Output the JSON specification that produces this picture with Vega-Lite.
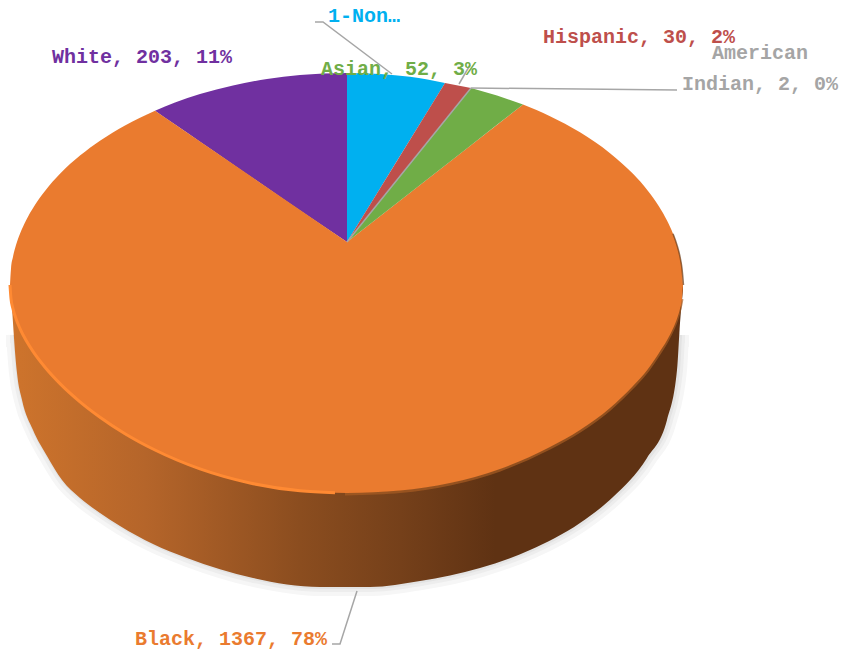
{
"$schema":"https://vega.github.io/schema/vega-lite/v6.json",
"width":843,"height":653,"padding":0,
"autosize":"none",
"background":"white",
"config":{"view":{"stroke":null}},
"datasets":{
"labels":[
{"category":"1-Non-Hispanic","value":100,"percent":6,"label":"1-Non…","lx":364,"ly":22},
{"category":"Hispanic","value":30,"percent":2,"label":"Hispanic, 30, 2%","lx":639,"ly":43},
{"category":"American Indian","value":2,"percent":0,"label":"American\nIndian, 2, 0%","lx":760,"ly":59},
{"category":"Asian","value":52,"percent":3,"label":"Asian, 52, 3%","lx":399,"ly":75},
{"category":"Black","value":1367,"percent":78,"label":"Black, 1367, 78%","lx":231,"ly":645},
{"category":"White","value":203,"percent":11,"label":"White, 203, 11%","lx":142,"ly":63}
],
"wall":[
{"x":11,"t":285,"b":290},{"x":13,"t":285,"b":323},{"x":17,"t":285,"b":373},{"x":22,"t":285,"b":400},{"x":33,"t":285,"b":430},{"x":47,"t":285,"b":456},{"x":62,"t":285,"b":480},{"x":80,"t":285,"b":498},{"x":100,"t":285,"b":513},{"x":120,"t":285,"b":526},{"x":153,"t":285,"b":544},{"x":187,"t":285,"b":558},{"x":253,"t":285,"b":578},{"x":320,"t":285,"b":587},{"x":370,"t":285,"b":587},{"x":420,"t":285,"b":581},{"x":480,"t":285,"b":568},{"x":530,"t":285,"b":550},{"x":580,"t":285,"b":523},{"x":613,"t":285,"b":497},{"x":647,"t":285,"b":458},{"x":667,"t":285,"b":420},{"x":677,"t":285,"b":370},{"x":680,"t":285,"b":323},{"x":683,"t":285,"b":290}
],
"shade":[
{"x":14,"t":330,"b":335},{"x":17,"t":330,"b":373},{"x":22,"t":330,"b":400},{"x":33,"t":330,"b":430},{"x":47,"t":330,"b":456},{"x":62,"t":330,"b":480},{"x":80,"t":330,"b":498},{"x":100,"t":330,"b":513},{"x":120,"t":330,"b":526},{"x":153,"t":330,"b":544},{"x":187,"t":330,"b":558},{"x":253,"t":330,"b":578},{"x":320,"t":330,"b":587},{"x":370,"t":330,"b":587},{"x":420,"t":330,"b":581},{"x":480,"t":330,"b":568},{"x":530,"t":330,"b":550},{"x":580,"t":330,"b":523},{"x":613,"t":330,"b":497},{"x":647,"t":330,"b":458},{"x":667,"t":330,"b":420},{"x":677,"t":330,"b":370},{"x":679,"t":330,"b":335}
],
"smooth":[
{"part":"low","category":"Black","x":10,"u":285,"l":285},{"part":"low","category":"Black","x":11,"u":285,"l":298.7},{"part":"low","category":"Black","x":13,"u":285,"l":308.8},{"part":"low","category":"Black","x":16,"u":285,"l":318.7},{"part":"low","category":"Black","x":20,"u":285,"l":328.6},{"part":"low","category":"Black","x":26,"u":285,"l":340.3},{"part":"low","category":"Black","x":34,"u":285,"l":352.9},{"part":"low","category":"Black","x":45,"u":285,"l":367.2},{"part":"low","category":"Black","x":60,"u":285,"l":383.6},{"part":"low","category":"Black","x":80,"u":285,"l":401.8},{"part":"low","category":"Black","x":100,"u":285,"l":417.2},{"part":"low","category":"Black","x":125,"u":285,"l":433.7},{"part":"low","category":"Black","x":155,"u":285,"l":450},{"part":"low","category":"Black","x":200,"u":285,"l":468.9},{"part":"low","category":"Black","x":250,"u":285,"l":483},{"part":"low","category":"Black","x":300,"u":285,"l":490.8},{"part":"low","category":"Black","x":347,"u":285,"l":493},{"part":"low","category":"Black","x":400,"u":285,"l":490.5},{"part":"low","category":"Black","x":450,"u":285,"l":483},{"part":"low","category":"Black","x":500,"u":285,"l":469},{"part":"low","category":"Black","x":550,"u":285,"l":447},{"part":"low","category":"Black","x":580,"u":285,"l":430},{"part":"low","category":"Black","x":610,"u":285,"l":408},{"part":"low","category":"Black","x":633,"u":285,"l":386},{"part":"low","category":"Black","x":648,"u":285,"l":369},{"part":"low","category":"Black","x":659,"u":285,"l":352.9},{"part":"low","category":"Black","x":667,"u":285,"l":340.3},{"part":"low","category":"Black","x":673,"u":285,"l":328.6},{"part":"low","category":"Black","x":677,"u":285,"l":318.7},{"part":"low","category":"Black","x":680,"u":285,"l":308.8},{"part":"low","category":"Black","x":682,"u":285,"l":298.7},{"part":"low","category":"Black","x":683,"u":285,"l":285},
{"part":"ul","category":"Black","x":10,"u":285,"l":285},{"part":"ul","category":"Black","x":11,"u":268.7,"l":287},{"part":"ul","category":"Black","x":13,"u":256.7,"l":287},{"part":"ul","category":"Black","x":16,"u":245.1,"l":287},{"part":"ul","category":"Black","x":20,"u":233.7,"l":287},{"part":"ul","category":"Black","x":26,"u":220.4,"l":287},{"part":"ul","category":"Black","x":34,"u":206.4,"l":287},{"part":"ul","category":"Black","x":45,"u":190.9,"l":287},{"part":"ul","category":"Black","x":60,"u":173.8,"l":287},{"part":"ul","category":"Black","x":80,"u":155.6,"l":287},{"part":"ul","category":"Black","x":100,"u":140.7,"l":287},{"part":"ul","category":"Black","x":125,"u":125.4,"l":287},{"part":"ul","category":"Black","x":155,"u":110.7,"l":287},
{"part":"ur","category":"Black","x":523,"u":104.5,"l":287},{"part":"ur","category":"Black","x":550,"u":116.2,"l":287},{"part":"ur","category":"Black","x":580,"u":132.3,"l":287},{"part":"ur","category":"Black","x":610,"u":153.2,"l":287},{"part":"ur","category":"Black","x":633,"u":173.8,"l":287},{"part":"ur","category":"Black","x":648,"u":190.9,"l":287},{"part":"ur","category":"Black","x":659,"u":206.4,"l":287},{"part":"ur","category":"Black","x":667,"u":220.4,"l":287},{"part":"ur","category":"Black","x":673,"u":233.7,"l":287},{"part":"ur","category":"Black","x":677,"u":245.1,"l":287},{"part":"ur","category":"Black","x":680,"u":256.7,"l":287},{"part":"ur","category":"Black","x":682,"u":268.7,"l":287},{"part":"ur","category":"Black","x":683,"u":285,"l":285},
{"part":"w","category":"White","x":155,"u":110.7,"l":110.7},{"part":"w","category":"White","x":175,"u":102.6,"l":124.5},{"part":"w","category":"White","x":200,"u":94.1,"l":141.7},{"part":"w","category":"White","x":233,"u":85.4,"l":164.4},{"part":"w","category":"White","x":267,"u":79,"l":187.8},{"part":"w","category":"White","x":300,"u":75,"l":210.5},{"part":"w","category":"White","x":347,"u":73,"l":242},
{"part":"n","category":"1-Non-Hispanic","x":347,"u":73,"l":242},{"part":"n","category":"1-Non-Hispanic","x":380,"u":74,"l":188.5},{"part":"n","category":"1-Non-Hispanic","x":410,"u":76.8,"l":139.8},{"part":"n","category":"1-Non-Hispanic","x":445,"u":83,"l":83}
],
"straight":[
{"category":"Black","x":155,"u":110.7,"l":287},{"category":"Black","x":347,"u":242,"l":287},{"category":"Black","x":523,"u":104.5,"l":287},
{"category":"Hispanic","x":347,"u":242,"l":242},{"category":"Hispanic","x":445,"u":83,"l":120.3},{"category":"Hispanic","x":471,"u":88,"l":88},
{"category":"Asian","x":347,"u":242,"l":242},{"category":"Asian","x":471,"u":88,"l":145.2},{"category":"Asian","x":497,"u":95.4,"l":124.8},{"category":"Asian","x":523,"u":104.5,"l":104.5}
],
"glow":[
{"x":10,"y":285},{"x":11,"y":298.7},{"x":13,"y":308.8},{"x":16,"y":318.7},{"x":20,"y":328.6},{"x":26,"y":340.3},{"x":34,"y":352.9},{"x":45,"y":367.2},{"x":60,"y":383.6},{"x":80,"y":401.8},{"x":100,"y":417.2},{"x":125,"y":433.7},{"x":155,"y":450},{"x":200,"y":468.9},{"x":250,"y":483},{"x":300,"y":490.8},{"x":335,"y":492.7}
],
"rim":[
{"x":345,"y":494},{"x":400,"y":491.5},{"x":450,"y":484},{"x":500,"y":470},{"x":550,"y":448},{"x":580,"y":431},{"x":610,"y":409},{"x":633,"y":387},{"x":648,"y":370},{"x":659,"y":354},{"x":667,"y":341},{"x":673,"y":329},{"x":677,"y":319},{"x":680,"y":309},{"x":682,"y":299}
],
"edge":[
{"x":673,"y":233.7},{"x":677,"y":245.1},{"x":680,"y":256.7},{"x":682,"y":268.7},{"x":683.5,"y":285}
],
"leaders":[
{"id":"a","i":1,"x":315,"y":22},{"id":"a","i":2,"x":323,"y":22},{"id":"a","i":3,"x":392,"y":74},
{"id":"b","i":1,"x":459,"y":84},{"id":"b","i":2,"x":470,"y":65},
{"id":"c","i":1,"x":471,"y":88},{"id":"c","i":2,"x":677,"y":90},
{"id":"d","i":1,"x":357,"y":591},{"id":"d","i":2,"x":340,"y":644},{"id":"d","i":3,"x":332,"y":644},
{"id":"e","i":1,"x":347,"y":242},{"id":"e","i":2,"x":471,"y":88}
]
},
"layer":[
{"data":{"name":"shade"},"mark":{"type":"area","orient":"vertical","interpolate":"monotone","fill":"#F6F6F6","stroke":"#F6F6F6","strokeWidth":18,"yOffset":8,"xOffset":1},
"encoding":{"x":{"field":"x","type":"quantitative","scale":{"domain":[0,843],"nice":false,"zero":false},"axis":null},"y":{"field":"t","type":"quantitative","scale":{"domain":[653,0],"nice":false,"zero":false},"axis":null},"y2":{"field":"b"}}},
{"data":{"name":"shade"},"mark":{"type":"area","orient":"vertical","interpolate":"monotone","fill":"#EDEDED","stroke":"#EDEDED","strokeWidth":10,"yOffset":8,"xOffset":1},
"encoding":{"x":{"field":"x","type":"quantitative","axis":null},"y":{"field":"t","type":"quantitative","axis":null},"y2":{"field":"b"}}},
{"data":{"name":"shade"},"mark":{"type":"area","orient":"vertical","interpolate":"monotone","fill":"#E3E3E3","stroke":"#E3E3E3","strokeWidth":4,"yOffset":7,"xOffset":1},
"encoding":{"x":{"field":"x","type":"quantitative","axis":null},"y":{"field":"t","type":"quantitative","axis":null},"y2":{"field":"b"}}},
{"data":{"name":"wall"},"mark":{"type":"area","orient":"vertical","interpolate":"monotone","fill":{"gradient":"linear","x1":0,"x2":1,"y1":0,"y2":0,"stops":[{"offset":0,"color":"#CE742C"},{"offset":0.2,"color":"#B5652A"},{"offset":0.43,"color":"#8B4D1F"},{"offset":0.58,"color":"#75401A"},{"offset":0.72,"color":"#5F3213"},{"offset":1,"color":"#5F3213"}]}},
"encoding":{"x":{"field":"x","type":"quantitative","axis":null},"y":{"field":"t","type":"quantitative","axis":null},"y2":{"field":"b"}}},
{"data":{"name":"rim"},"mark":{"type":"line","interpolate":"monotone","stroke":"#A85C24","strokeWidth":3,"opacity":0.7},
"encoding":{"x":{"field":"x","type":"quantitative","axis":null},"y":{"field":"y","type":"quantitative","axis":null}}},
{"data":{"name":"smooth"},"mark":{"type":"area","orient":"vertical","interpolate":"monotone"},
"encoding":{"x":{"field":"x","type":"quantitative","axis":null},"y":{"field":"u","type":"quantitative","axis":null},"y2":{"field":"l"},"detail":{"field":"part"},
"color":{"field":"category","type":"nominal","legend":null,"scale":{"domain":["1-Non-Hispanic","Hispanic","American Indian","Asian","Black","White"],"range":["#00B0F0","#BE4F4B","#A5A5A5","#70AD47","#EA7B2F","#7030A0"]}}}},
{"data":{"name":"straight"},"mark":{"type":"area","orient":"vertical"},
"encoding":{"x":{"field":"x","type":"quantitative","axis":null},"y":{"field":"u","type":"quantitative","axis":null},"y2":{"field":"l"},
"color":{"field":"category","type":"nominal","legend":null}}},
{"data":{"name":"glow"},"mark":{"type":"line","interpolate":"monotone","stroke":"#FF8A33","strokeWidth":3},
"encoding":{"x":{"field":"x","type":"quantitative","axis":null},"y":{"field":"y","type":"quantitative","axis":null}}},
{"data":{"name":"edge"},"mark":{"type":"line","interpolate":"monotone","stroke":"#6B3A16","strokeWidth":1.5,"opacity":0.7},
"encoding":{"x":{"field":"x","type":"quantitative","axis":null},"y":{"field":"y","type":"quantitative","axis":null}}},
{"data":{"name":"leaders"},"mark":{"type":"line","stroke":"#A6A6A6","strokeWidth":1.5},
"encoding":{"x":{"field":"x","type":"quantitative","axis":null},"y":{"field":"y","type":"quantitative","axis":null},"detail":{"field":"id"},"order":{"field":"i","type":"ordinal"}}},
{"data":{"name":"labels"},"mark":{"type":"text","font":"Liberation Mono","fontWeight":"bold","fontSize":20,"align":"center","baseline":"alphabetic","lineBreak":"\n","lineHeight":31},
"encoding":{"x":{"field":"lx","type":"quantitative","axis":null},"y":{"field":"ly","type":"quantitative","axis":null},"text":{"field":"label"},
"color":{"field":"category","type":"nominal","legend":null}}}
]
}
